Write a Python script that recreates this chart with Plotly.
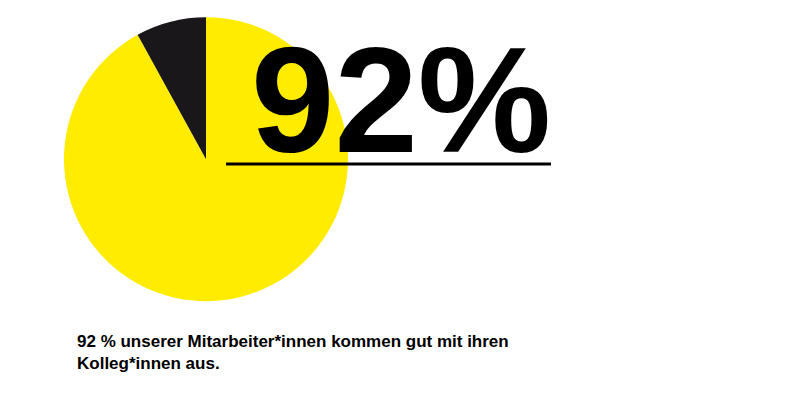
import plotly.graph_objects as go

labels = ["Gut", "Nicht gut"]
values = [92, 8]
colors = ["#ffec00", "#1a171b"]
headline = "92%"
caption = "92 % unserer Mitarbeiter*innen kommen gut mit ihren<br>Kolleg*innen aus."

fig = go.Figure(go.Pie(
    labels=labels, values=values, sort=False, direction="clockwise", rotation=0,
    marker=dict(colors=colors, line=dict(width=0)), textinfo="none", hoverinfo="label+percent",
    domain=dict(x=[0.07, 0.425], y=[0.267, 0.977]),
))

fig.add_annotation(x=545 / 800, y=1 - 178 / 400, xref="paper", yref="paper", xanchor="right", yanchor="bottom",
                   text="<b>" + headline + "</b>", showarrow=False,
                   font=dict(family="Liberation Sans", size=150, color="black"))
fig.add_shape(type="line", xref="paper", yref="paper", x0=218 / 800, x1=543 / 800,
              y0=1 - 156 / 400, y1=1 - 156 / 400, line=dict(color="black", width=3))
fig.add_annotation(x=67 / 800, y=1 - 322 / 400, xref="paper", yref="paper", xanchor="left", yanchor="top",
                   text="<b>" + caption + "</b>", showarrow=False, align="left",
                   font=dict(family="Liberation Sans", size=17, color="black"))

fig.update_layout(width=800, height=400, margin=dict(l=0, r=0, t=0, b=0), showlegend=False,
                  paper_bgcolor="white", plot_bgcolor="white")
fig.write_html("out.html")
